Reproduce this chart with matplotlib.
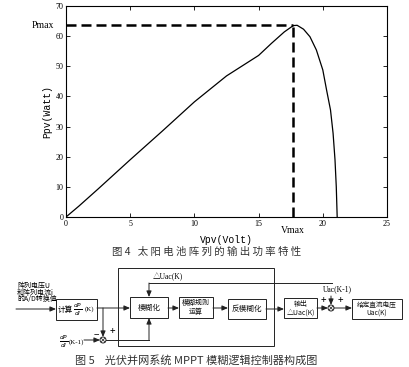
import matplotlib.pyplot as plt
from matplotlib.patches import Rectangle, Circle

plt.rcParams['font.family'] = ['Noto Sans CJK SC', 'DejaVu Sans']

# P-V curve
volt = [0, 1, 2.5, 5, 7.5, 10, 12.5, 15, 16, 17, 17.7, 18.0, 18.5, 19.0, 19.5,
        20.0, 20.3, 20.6, 20.8, 20.95, 21.05, 21.12]
power = [0, 3.6, 9.3, 19.0, 28.5, 38.2, 46.8, 53.6, 57.6, 61.4, 63.5, 63.6, 62.3,
         59.8, 55.4, 48.8, 42.0, 35.5, 27.8, 19.0, 10.0, 0]
vmax = 17.7
pmax = 63.6
xticks = [0, 5, 10, 15, 20, 25]
yticks = [0, 10, 20, 30, 40, 50, 60, 70]

cap4 = '图 4   太 阳 电 池 阵 列 的 输 出 功 率 特 性'
cap5 = '图 5    光伏并网系统 MPPT 模糊逻辑控制器构成图'

fig = plt.figure(figsize=(4.09, 3.67), dpi=100)
ax = fig.add_axes([66/409, 1-217/367, 321/409, 211/367])
ax.plot(volt, power, color='black', lw=0.9)
ax.plot([0, vmax], [pmax, pmax], color='black', lw=1.8, ls=(0, (4, 2)))
ax.plot([vmax, vmax], [0, pmax], color='black', lw=1.8, ls=(0, (4, 2)))
ax.set_xlim(0, 25)
ax.set_ylim(0, 70)
ax.set_xticks(xticks)
ax.set_yticks(yticks)
ax.tick_params(direction='in', length=3, width=0.6, labelsize=5.8, top=True, right=True, pad=2)
for lab in ax.get_xticklabels() + ax.get_yticklabels():
    lab.set_fontfamily('Liberation Serif')
for s in ax.spines.values():
    s.set_linewidth(0.8)
ax.text(-0.9, pmax, 'Pmax', ha='right', va='center', fontsize=7, family='Liberation Serif')
ax.text(vmax, -3.0, 'Vmax', ha='center', va='top', fontsize=7, family='Liberation Serif')
ax.set_xlabel('Vpv(Volt)', fontsize=7, family='Liberation Mono', labelpad=5)
ax.set_ylabel('Ppv(Watt)', fontsize=7, family='Liberation Mono', labelpad=2)

# block diagram in pixel coordinates
d = fig.add_axes([0, 0, 1, 1])
d.set_xlim(0, 409)
d.set_ylim(367, 0)
d.axis('off')
d.patch.set_alpha(0)

lc = '#222222'

def box(x0, y0, x1, y1, txt, fs=5.5):
    d.add_patch(Rectangle((x0, y0), x1-x0, y1-y0, fill=False, ec=lc, lw=0.7))
    if txt:
        d.text((x0+x1)/2, (y0+y1)/2, txt, ha='center', va='center', fontsize=fs,
               linespacing=1.1, color='#111111')

def arrow(pts):
    for a, b in zip(pts[:-2], pts[1:-1]):
        d.plot([a[0], b[0]], [a[1], b[1]], color=lc, lw=0.7)
    d.annotate('', xy=pts[-1], xytext=pts[-2],
               arrowprops=dict(arrowstyle='-|>,head_length=0.35,head_width=0.15', color=lc,
                               lw=0.7, shrinkA=0, shrinkB=0))

box(117.5, 268, 273.5, 346, None)
box(56, 299, 97, 320, None)
box(130, 297, 168, 318, '模糊化')
box(179, 297, 213, 318, '模糊规则\n运算', 5)
box(228, 299, 266, 319, '反模糊化')
box(284, 298, 317, 318, '输出\n△Uac(K)', 5)
box(352, 299, 402, 319, '给定直流电压\nUac(K)', 4.8)

d.text(58, 309.5, '计算', ha='left', va='center', fontsize=5.5)
d.text(78, 309.5, r'$\frac{dP}{dI}$', ha='center', va='center', fontsize=6)
d.text(84.5, 309.5, '(K)', ha='left', va='center', fontsize=5, family='Liberation Serif')

d.text(17, 286, '阵列电压U', ha='left', va='center', fontsize=5)
d.text(17, 292.5, '和阵列电流i', ha='left', va='center', fontsize=5)
d.text(17, 299, '的A/D转换值', ha='left', va='center', fontsize=5)
arrow([(16, 309), (56, 309)])

arrow([(97, 308), (130, 308)])
arrow([(103, 308), (103, 337)])
d.add_patch(Circle((103, 340), 3, fill=False, ec=lc, lw=0.7))
d.plot([101, 105], [338, 342], color=lc, lw=0.5)
d.plot([101, 105], [342, 338], color=lc, lw=0.5)
d.text(64, 342, r'$\frac{dP}{dI}$', ha='center', va='center', fontsize=6)
d.text(69, 342, '(K-1)', ha='left', va='center', fontsize=5, family='Liberation Serif')
arrow([(84, 340), (100, 340)])
d.text(96, 335, '−', ha='center', va='center', fontsize=7)
d.text(112, 331, '+', ha='center', va='center', fontsize=7)
arrow([(106, 340), (149, 340), (149, 318)])

arrow([(332, 283), (149, 283), (149, 297)])
d.text(153, 277, '△Uac(K)', ha='left', va='center', fontsize=5.5, family=['Liberation Serif', 'Noto Sans CJK SC'])

arrow([(168, 308), (179, 308)])
arrow([(213, 308), (228, 308)])
arrow([(266, 309), (284, 309)])
arrow([(317, 308), (328, 308)])
d.add_patch(Circle((331, 308), 3, fill=False, ec=lc, lw=0.7))
d.plot([329, 333], [306, 310], color=lc, lw=0.5)
d.plot([329, 333], [310, 306], color=lc, lw=0.5)
arrow([(334, 308), (352, 308)])
d.text(337, 289, 'Uac(K-1)', ha='center', va='center', fontsize=5.5, family='Liberation Serif')
arrow([(331, 296), (331, 305)])
d.text(323, 300, '+', ha='center', va='center', fontsize=7)
d.text(340, 300, '+', ha='center', va='center', fontsize=7)

d.text(207, 252, cap4, ha='center', va='center', fontsize=7.5, color='#333333')
d.text(196, 360, cap5, ha='center', va='center', fontsize=8, color='#333333')

fig.savefig('out.png', dpi=100)
